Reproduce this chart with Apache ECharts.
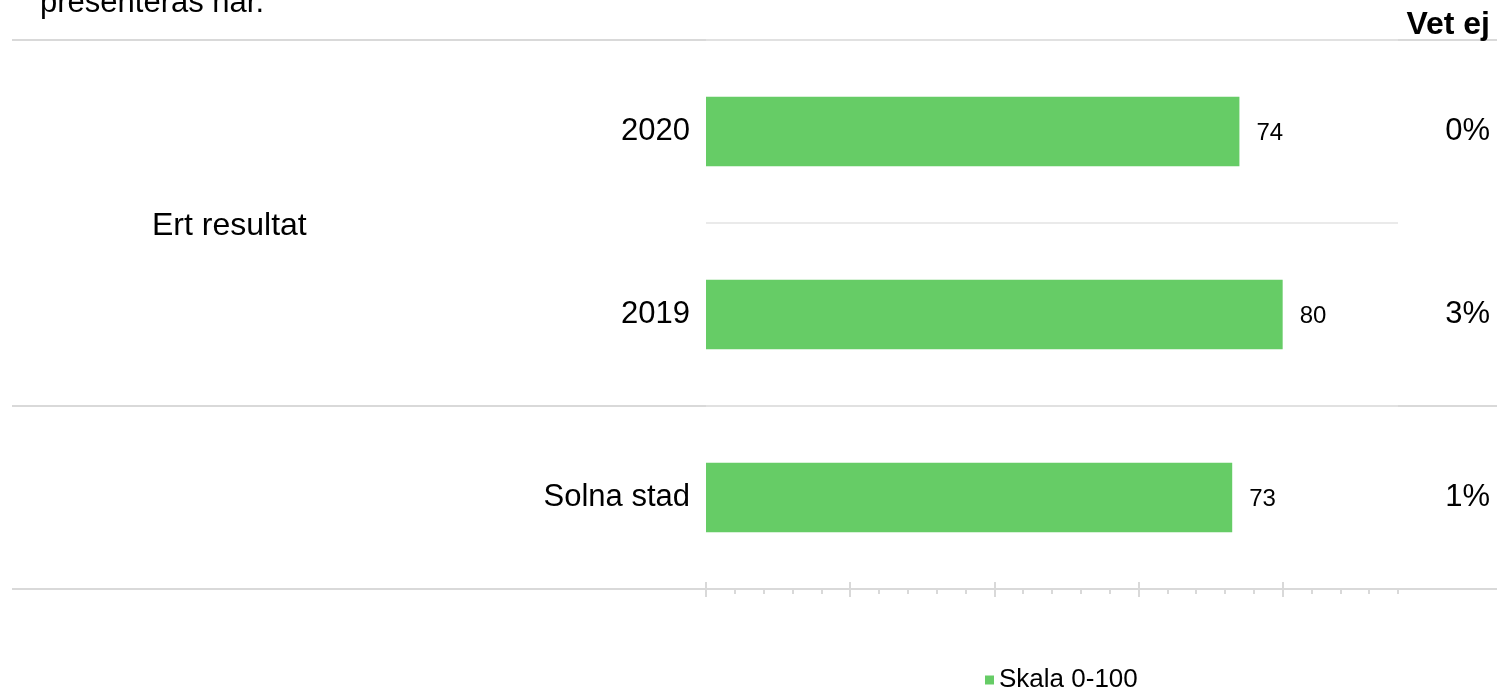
<!DOCTYPE html>
<html>
<head>
<meta charset="utf-8">
<script src="https://cdn.jsdelivr.net/npm/echarts@6/dist/echarts.min.js"></script>
<style>
  html, body { margin: 0; padding: 0; background: #fff; }
  #main { width: 1497px; height: 690px; }
</style>
</head>
<body>
<div id="main"></div>
<script type="text/javascript">
    // data
    var categories = ['2020', '2019', 'Solna stad'];
    var values = [74, 80, 73];
    var vetEj = ['0%', '3%', '1%'];
    var groupLabel = 'Ert resultat';
    var seriesName = 'Skala 0-100';
    var majorTicks = [0, 20, 40, 60, 80];
    var font = '"Liberation Sans", Arial, sans-serif';
    var lineColor = '#d9d9d9';

    var myChart = echarts.init(document.getElementById('main'));

    function tickAxis(values, len, inside) {
        return {
            type: 'value', position: 'bottom', min: 0, max: 96,
            axisLine: { show: false },
            axisLabel: { show: false },
            splitLine: { show: false },
            axisTick: { show: true, inside: inside, length: len, customValues: values,
                lineStyle: { color: lineColor, width: 2 } }
        };
    }

    var option = {
        animation: false,
        textStyle: { fontFamily: font },
        grid: { left: 706, right: 99, top: 40, bottom: 101, containLabel: false },
        legend: {
            data: [seriesName],
            icon: 'rect', itemWidth: 9, itemHeight: 9,
            left: 980, top: 662,
            textStyle: { fontSize: 26, color: '#000', fontFamily: font }
        },
        xAxis: [
            {
                type: 'value', position: 'bottom', min: 0, max: 96, interval: 4,
                axisLine: { show: true, lineStyle: { color: lineColor, width: 2 } },
                axisTick: { show: true, length: 5, lineStyle: { color: lineColor, width: 2 } },
                axisLabel: { show: false },
                splitLine: { show: false }
            },
            tickAxis(majorTicks, 8, false),
            tickAxis(majorTicks, 7, true)
        ],
        yAxis: [
            {
                type: 'category', data: categories, inverse: true,
                axisLine: { show: false }, axisTick: { show: false },
                axisLabel: { margin: 16, fontSize: 31, color: '#000', fontFamily: font, padding: [5, 0, 0, 0] },
                splitLine: { show: true, lineStyle: { color: '#e3e3e3', width: 1.5 } }
            },
            {
                type: 'category', data: vetEj, inverse: true, position: 'right',
                axisLine: { show: false }, axisTick: { show: false },
                axisLabel: { margin: 92, align: 'right', fontSize: 31, color: '#000', fontFamily: font, padding: [5, 0, 0, 0] },
                splitLine: { show: false }
            }
        ],
        series: [{
            name: seriesName,
            type: 'bar',
            data: values,
            barWidth: '38%',
            itemStyle: { color: '#66cc66' },
            label: { show: true, position: 'right', distance: 17, offset: [0, 2], fontSize: 24, color: '#000', fontFamily: font }
        }],
        graphic: [
            { type: 'line', shape: { x1: 12, y1: 40, x2: 1497, y2: 40 }, style: { stroke: lineColor, lineWidth: 2 } },
            { type: 'line', shape: { x1: 12, y1: 406, x2: 1497, y2: 406 }, style: { stroke: lineColor, lineWidth: 2 } },
            { type: 'line', shape: { x1: 12, y1: 589, x2: 1497, y2: 589 }, style: { stroke: lineColor, lineWidth: 2 } },
            { type: 'text', x: 40, y: 3, style: { text: 'presenteras här.', font: '31px ' + font, fill: '#000', verticalAlign: 'middle' } },
            { type: 'text', x: 1490, y: 25, style: { text: 'Vet ej', font: 'bold 32px ' + font, fill: '#000', align: 'right', verticalAlign: 'middle' } },
            { type: 'text', x: 152, y: 226, style: { text: groupLabel, font: '32px ' + font, fill: '#000', verticalAlign: 'middle' } }
        ]
    };

    myChart.setOption(option);
</script>
</body>
</html>
